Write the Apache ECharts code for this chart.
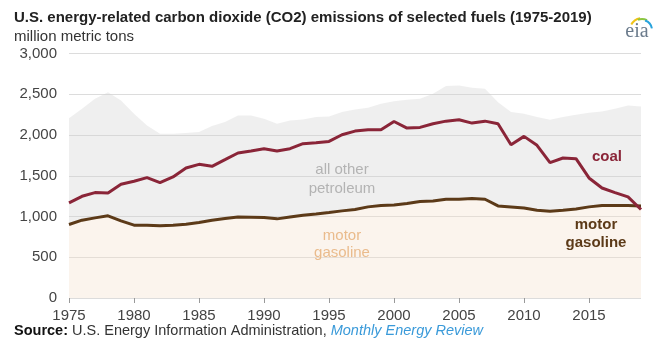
<!DOCTYPE html>
<html>
<head>
<meta charset="utf-8">
<script src="https://cdn.jsdelivr.net/npm/echarts@6/dist/echarts.min.js"></script>
<style>
html,body{margin:0;padding:0;background:#fff;}
#chart{width:669px;height:343px;}
</style>
</head>
<body>
<div id="chart"></div>
<script>
var years = ['1975','1976','1977','1978','1979','1980','1981','1982','1983','1984','1985','1986','1987','1988','1989',
  '1990','1991','1992','1993','1994','1995','1996','1997','1998','1999','2000','2001','2002','2003','2004',
  '2005','2006','2007','2008','2009','2010','2011','2012','2013','2014','2015','2016','2017','2018','2019'];
var coal = [1167,1248,1293,1289,1395,1432,1477,1416,1485,1595,1640,1616,1697,1779,1803,
  1832,1803,1832,1893,1905,1921,2003,2048,2065,2065,2166,2085,2093,2138,2170,
  2187,2146,2170,2138,1881,1983,1873,1661,1718,1710,1473,1350,1293,1240,1086];
var motorGasoline = [902,955,983,1008,946,894,894,885,894,906,926,955,975,995,991,
  987,971,995,1016,1032,1049,1069,1086,1118,1135,1142,1159,1184,1191,1212,
  1212,1220,1212,1130,1118,1105,1077,1065,1077,1093,1118,1135,1135,1135,1130];
var allOtherPetroleum = [1305,1367,1461,1517,1478,1366,1223,1130,1121,1118,1110,1154,1183,1245,1249,
  1212,1167,1184,1175,1188,1179,1212,1228,1216,1248,1273,1273,1260,1314,1388,
  1395,1359,1355,1273,1163,1155,1143,1122,1143,1155,1155,1154,1187,1227,1220];
var yTicks = [0,500,1000,1500,2000,2500,3000];

var chart = echarts.init(document.getElementById('chart'), null, {renderer:'canvas'});
var FONT = 'Liberation Sans, Arial, sans-serif';
chart.setOption({
  animation:false,
  backgroundColor:'#ffffff',
  textStyle:{fontFamily:FONT},
  title:[
    {text:'U.S. energy-related carbon dioxide (CO2) emissions of selected fuels (1975-2019)',
     left:14, top:10, padding:0, textStyle:{fontFamily:FONT, fontSize:15, fontWeight:'bold', color:'#222'}},
    {text:'million metric tons', left:14, top:29, padding:0, textStyle:{fontFamily:FONT, fontSize:15, fontWeight:'normal', color:'#333'}}
  ],
  grid:{left:69, right:28, top:53.5, bottom:45, containLabel:false},
  xAxis:{
    type:'category', data:years, boundaryGap:false,
    axisLine:{show:false},
    axisTick:{show:true, interval:4, length:5, lineStyle:{color:'#999'}},
    axisLabel:{interval:4, margin:10, fontSize:15, color:'#444', fontFamily:FONT},
    splitLine:{show:false}
  },
  yAxis:{
    type:'value', min:yTicks[0], max:yTicks[yTicks.length-1], interval:500,
    axisLine:{show:false}, axisTick:{show:false},
    axisLabel:{margin:12, fontSize:15, color:'#444', fontFamily:FONT,
      formatter:function(v){return v.toLocaleString('en-US');}},
    splitLine:{show:true, lineStyle:{color:'#dcdcdc', width:1}}
  },
  series:[
    {name:'motor gasoline', type:'line', stack:'petroleum', data:motorGasoline, symbol:'none', z:4,
     lineStyle:{color:'#5c3a18', width:3}, areaStyle:{color:'rgba(245,225,205,0.5)', origin:'start'}},
    {name:'all other petroleum', type:'line', stack:'petroleum', data:allOtherPetroleum, symbol:'none', z:2,
     lineStyle:{width:0}, areaStyle:{color:'rgba(211,211,211,0.5)'}},
    {name:'coal', type:'line', data:coal, symbol:'none', z:5,
     lineStyle:{color:'#8a2538', width:3}}
  ],
  graphic:[
    {type:'text', z:100, x:342, y:170, style:{text:'all other', font:'15px '+FONT, fill:'#b3b3b3', align:'center', verticalAlign:'middle'}},
    {type:'text', z:100, x:342, y:189, style:{text:'petroleum', font:'15px '+FONT, fill:'#b3b3b3', align:'center', verticalAlign:'middle'}},
    {type:'text', z:100, x:342, y:236, style:{text:'motor', font:'15px '+FONT, fill:'#eabb8c', align:'center', verticalAlign:'middle'}},
    {type:'text', z:100, x:342, y:253, style:{text:'gasoline', font:'15px '+FONT, fill:'#eabb8c', align:'center', verticalAlign:'middle'}},
    {type:'text', z:100, x:607, y:157, style:{text:'coal', font:'bold 15px '+FONT, fill:'#8a2538', align:'center', verticalAlign:'middle'}},
    {type:'text', z:100, x:596, y:225, style:{text:'motor', font:'bold 15px '+FONT, fill:'#5c3a18', align:'center', verticalAlign:'middle'}},
    {type:'text', z:100, x:596, y:243, style:{text:'gasoline', font:'bold 15px '+FONT, fill:'#5c3a18', align:'center', verticalAlign:'middle'}},
    {type:'text', z:100, x:14, y:331, style:{
      text:'{b|Source:} U.S. Energy Information Administration, {i|Monthly Energy Review}',
      font:'14.5px '+FONT, fill:'#333', verticalAlign:'middle',
      rich:{b:{fontWeight:'bold', fontSize:14.5, fontFamily:FONT, fill:'#111'},
            i:{fontStyle:'italic', fontSize:14.5, fontFamily:FONT, fill:'#3a9ad9'}}}},
    {type:'text', z:100, x:637, y:32, style:{text:'eia', font:'20px Liberation Serif, DejaVu Serif, serif', fill:'#6b7b8c', align:'center', verticalAlign:'middle'}},
    {type:'arc', z:100, shape:{cx:642, cy:30, r:12, startAngle:-Math.PI*0.85, endAngle:-Math.PI*0.55}, style:{stroke:'#f0c419', lineWidth:2, fill:null}},
    {type:'arc', z:100, shape:{cx:642, cy:30, r:11, startAngle:-Math.PI*0.62, endAngle:-Math.PI*0.35}, style:{stroke:'#8cc63f', lineWidth:2, fill:null}},
    {type:'arc', z:100, shape:{cx:642, cy:30, r:10, startAngle:-Math.PI*0.4, endAngle:-Math.PI*0.05}, style:{stroke:'#29a3dc', lineWidth:2, fill:null}}
  ]
});
</script>
</body>
</html>
